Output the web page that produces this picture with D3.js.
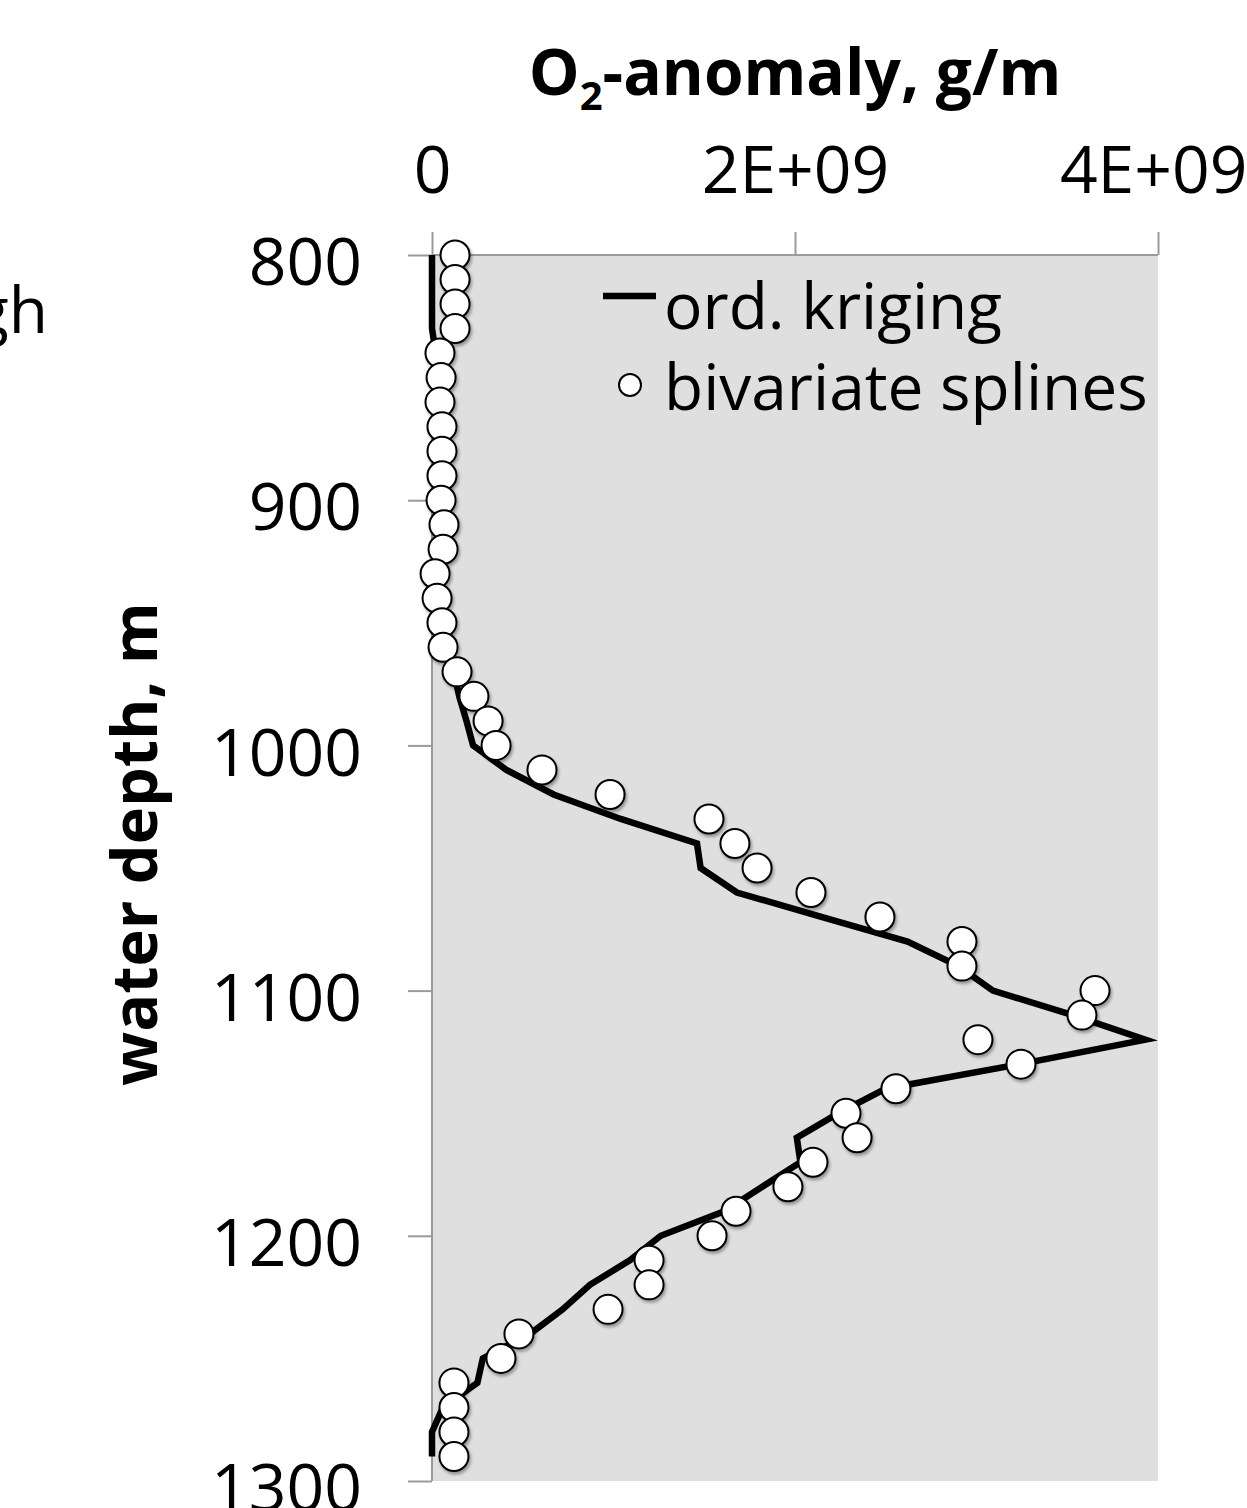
<!DOCTYPE html>
<html><head><meta charset="utf-8">
<script src="https://cdnjs.cloudflare.com/ajax/libs/d3/7.8.5/d3.min.js"></script>
<style>body{margin:0;background:#fff;}svg{display:block;}</style>
</head><body>
<script>
const depths = d3.range(800, 1300, 10);
// bivariate splines (units of 1e9 g/m)
const splineVals = [0.127,0.127,0.127,0.127,0.044,0.05,0.044,0.055,0.055,0.055,
  0.05,0.066,0.061,0.017,0.028,0.055,0.061,0.138,0.231,0.309,
  0.353,0.606,0.981,1.526,1.669,1.791,2.088,2.468,2.920,2.920,
  3.653,3.581,3.008,3.245,2.556,2.281,2.342,2.099,1.961,1.675,
  1.543,1.196,1.196,0.970,0.479,0.380,0.121,0.121,0.121,0.121];
// ordinary kriging (units of 1e9 g/m)
const krigVals = [0.0,0.0,0.0,0.0,0.02,0.03,0.03,0.03,0.03,0.03,
  0.03,0.03,0.03,0.03,0.04,0.05,0.07,0.12,0.15,0.19,
  0.226,0.41,0.67,1.04,1.46,1.48,1.68,2.15,2.62,2.90,
  3.09,3.53,3.93,3.24,2.50,2.24,2.01,2.03,1.82,1.61,
  1.26,1.09,0.87,0.72,0.54,0.28,0.25,0.06,0.0,0.0];
const xTicks = [0, 2e9, 4e9];
const xTickLabels = ["0", "2E+09", "4E+09"];
const yTicks = [800, 900, 1000, 1100, 1200, 1300];

const W = 1247, H = 1508;
const svg = d3.select("body").append("svg").attr("width", W).attr("height", H);
const FONT = "'Open Sans', Lato, sans-serif";

const x = d3.scaleLinear().domain([0, 4e9]).range([432, 1158]);
const y = d3.scaleLinear().domain([800, 1300]).range([255, 1481]);

const defs = svg.append("defs");
const f = defs.append("filter").attr("id","sh").attr("x","-50%").attr("y","-50%").attr("width","200%").attr("height","200%");
f.append("feDropShadow").attr("dx",1.5).attr("dy",2.5).attr("stdDeviation",1.8).attr("flood-color","#000").attr("flood-opacity",0.35);

// plot background
svg.append("rect").attr("x", x(0)).attr("y", y(800))
  .attr("width", x(4e9) - x(0)).attr("height", y(1300) - y(800)).attr("fill", "#dfdfdf");

// top x axis
const xAxis = d3.axisTop(x).tickValues(xTicks).tickSize(23).tickFormat((d,i)=>xTickLabels[i]).tickPadding(39);
const gx = svg.append("g").attr("transform", `translate(0,${y(800)})`).call(xAxis);
gx.select(".domain").attr("stroke","#9a9a9a").attr("stroke-width",2).attr("d", `M${x(0)},0H${x(4e9)}`);
gx.selectAll(".tick line").attr("stroke","#9a9a9a").attr("stroke-width",2);
gx.selectAll(".tick text").attr("font-family",FONT).attr("font-size",66).attr("fill","#000").attr("dy","0");
gx.selectAll(".tick text").filter((d,i)=>i===2).attr("text-anchor","end").attr("dx", 1247-1158);

// left y axis
const yAxis = d3.axisLeft(y).tickValues(yTicks).tickSize(24).tickPadding(46).tickFormat(d3.format("d"));
const gy = svg.append("g").attr("transform", `translate(${x(0)},0)`).call(yAxis);
gy.select(".domain").attr("stroke","#9a9a9a").attr("stroke-width",2).attr("d", `M0,${y(800)}V${y(1300)}`);
gy.selectAll(".tick line").attr("stroke","#9a9a9a").attr("stroke-width",2);
gy.selectAll(".tick text").attr("font-family",FONT).attr("font-size",66).attr("fill","#000").attr("dy","0.45em");

// kriging line
const line = d3.line().x(d => x(d[1]*1e9)).y(d => y(d[0]));
svg.append("path").datum(depths.map((d,i)=>[d, krigVals[i]]))
  .attr("d", line).attr("fill","none").attr("stroke","#000").attr("stroke-width",6.5).attr("stroke-linejoin","miter");

// spline points
svg.append("g").selectAll("circle").data(depths.map((d,i)=>[d, splineVals[i]])).join("circle")
  .attr("cx", d => x(d[1]*1e9)).attr("cy", d => y(d[0])).attr("r", 14.5)
  .attr("fill","#fff").attr("stroke","#000").attr("stroke-width",2).attr("filter","url(#sh)");

// legend
svg.append("line").attr("x1",603).attr("x2",656).attr("y1",296).attr("y2",296).attr("stroke","#000").attr("stroke-width",6.5);
svg.append("text").attr("x",664).attr("y",329).attr("font-family",FONT).attr("font-size",64).text("ord. kriging");
svg.append("circle").attr("cx",630).attr("cy",385).attr("r",11).attr("fill","#fff").attr("stroke","#000").attr("stroke-width",2);
svg.append("text").attr("x",664).attr("y",410).attr("font-family",FONT).attr("font-size",64).text("bivariate splines");

// title
const t = svg.append("text").attr("x",795).attr("y",95).attr("text-anchor","middle")
  .attr("font-family",FONT).attr("font-weight","bold").attr("font-size",64);
t.append("tspan").text("O");
t.append("tspan").attr("font-size",40).attr("dy",15).text("2");
t.append("tspan").attr("dy",-15).text("-anomaly, g/m");

// y title
svg.append("text").attr("transform","translate(157,844) rotate(-90)").attr("text-anchor","middle")
  .attr("font-family",FONT).attr("font-weight","bold").attr("font-size",63).text("water depth, m");

// clipped text from neighbouring panel
svg.append("text").attr("x",48).attr("y",333).attr("text-anchor","end").attr("font-family",FONT).attr("font-size",64).text("high");
</script>
</body></html>
